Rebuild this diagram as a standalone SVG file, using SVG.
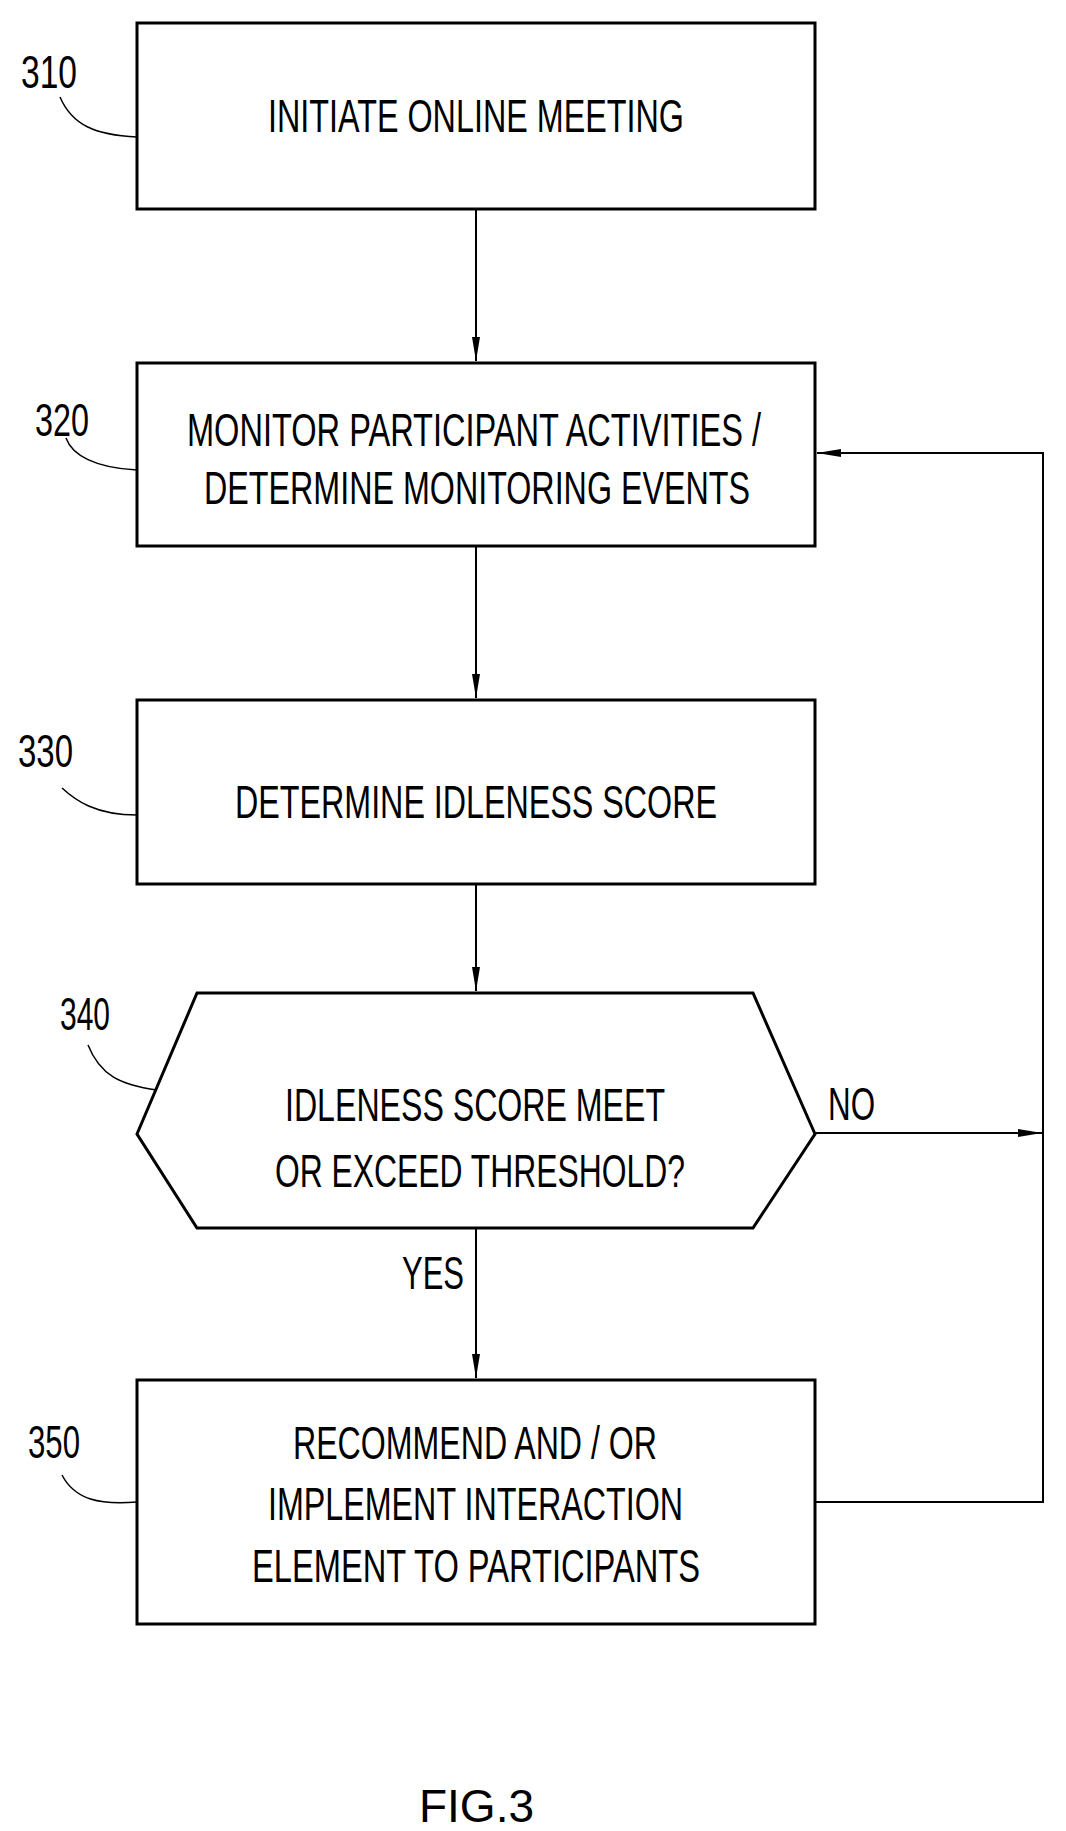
<svg xmlns="http://www.w3.org/2000/svg" width="1066" height="1831" viewBox="0 0 1066 1831">
<style>
.b{fill:#fff;stroke:#000;stroke-width:3}
.t{font-family:"Liberation Sans",Arial,sans-serif;font-size:46px;fill:#000}
.n{font-family:"Liberation Sans",Arial,sans-serif;font-size:46px;fill:#000}
.c{fill:none;stroke:#000;stroke-width:2}
.l{fill:none;stroke:#000;stroke-width:1.5}
</style>
<defs><marker id="a" markerWidth="24" markerHeight="8" refX="24" refY="4" orient="auto" markerUnits="userSpaceOnUse" viewBox="0 0 24 8"><path d="M0,0 L24,4 L0,8 Z" fill="#000"/></marker></defs>
<rect width="1066" height="1831" fill="#fff"/>
<g id="connectors">
<path class="c" d="M476,209 V361" marker-end="url(#a)"/>
<path class="c" d="M476,546 V698" marker-end="url(#a)"/>
<path class="c" d="M476,884 V991" marker-end="url(#a)"/>
<path class="c" d="M476,1228 V1378" marker-end="url(#a)"/>
<path class="c" d="M815,1133 H1042" marker-end="url(#a)"/>
<path class="c" d="M815,1502 H1043 V453 H817" marker-end="url(#a)"/>
<text class="t" x="828" y="1120" textLength="47" lengthAdjust="spacingAndGlyphs">NO</text>
<text class="t" x="402" y="1289" textLength="62" lengthAdjust="spacingAndGlyphs">YES</text>
</g>
<g id="n310">
<rect class="b" x="137" y="23" width="678" height="186"/>
<text class="t" x="268" y="132" textLength="416" lengthAdjust="spacingAndGlyphs">INITIATE ONLINE MEETING</text>
<text class="n" x="21" y="88" textLength="56" lengthAdjust="spacingAndGlyphs">310</text>
<path class="l" d="M137,137 C95,135 72,125 60,97"/>
</g>
<g id="n320">
<rect class="b" x="137" y="363" width="678" height="183"/>
<text class="t" x="187" y="446" textLength="574" lengthAdjust="spacingAndGlyphs">MONITOR PARTICIPANT ACTIVITIES /</text>
<text class="t" x="204" y="504" textLength="546" lengthAdjust="spacingAndGlyphs">DETERMINE MONITORING EVENTS</text>
<text class="n" x="35" y="436" textLength="54" lengthAdjust="spacingAndGlyphs">320</text>
<path class="l" d="M137,470 C95,468 72,455 66,438"/>
</g>
<g id="n330">
<rect class="b" x="137" y="700" width="678" height="184"/>
<text class="t" x="235" y="818" textLength="482" lengthAdjust="spacingAndGlyphs">DETERMINE IDLENESS SCORE</text>
<text class="n" x="18" y="767" textLength="55" lengthAdjust="spacingAndGlyphs">330</text>
<path class="l" d="M137,815 C95,815 75,800 62,788"/>
</g>
<g id="n340">
<polygon class="b" points="137,1134 197,993 753,993 815,1134 753,1228 197,1228"/>
<text class="t" x="285" y="1121" textLength="380" lengthAdjust="spacingAndGlyphs">IDLENESS SCORE MEET</text>
<text class="t" x="275" y="1187" textLength="410" lengthAdjust="spacingAndGlyphs">OR EXCEED THRESHOLD?</text>
<text class="n" x="60" y="1030" textLength="50" lengthAdjust="spacingAndGlyphs">340</text>
<path class="l" d="M157,1090 C120,1085 100,1075 88,1045"/>
</g>
<g id="n350">
<rect class="b" x="137" y="1380" width="678" height="244"/>
<text class="t" x="293" y="1459" textLength="364" lengthAdjust="spacingAndGlyphs">RECOMMEND AND / OR</text>
<text class="t" x="268" y="1520" textLength="415" lengthAdjust="spacingAndGlyphs">IMPLEMENT INTERACTION</text>
<text class="t" x="252" y="1582" textLength="448" lengthAdjust="spacingAndGlyphs">ELEMENT TO PARTICIPANTS</text>
<text class="n" x="28" y="1458" textLength="52" lengthAdjust="spacingAndGlyphs">350</text>
<path class="l" d="M137,1502 C100,1505 75,1500 62,1475"/>
</g>
<text class="n" x="419" y="1822" font-size="96" textLength="115" lengthAdjust="spacingAndGlyphs">FIG.3</text>
</svg>
